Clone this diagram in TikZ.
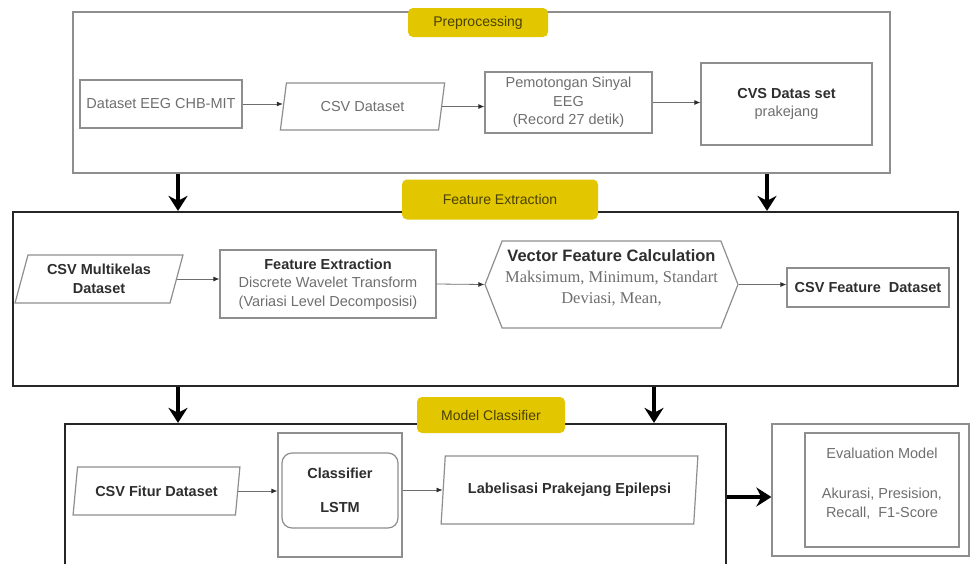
\documentclass[tikz,border=0pt]{standalone}
\usepackage{fontspec}
\setmainfont{Liberation Sans}
\newfontfamily\timesfont{Liberation Serif}
\usetikzlibrary{shapes.geometric,shapes.symbols,arrows.meta}
\definecolor{labelyellow}{HTML}{E2C600}
\definecolor{labeltext}{HTML}{4A4100}
\definecolor{boxgray}{HTML}{8E8E8E}
\definecolor{textgray}{HTML}{6E6E6E}
\definecolor{textdark}{HTML}{2E2E2E}
\newcommand\boxtitle[1]{\textcolor{textdark}{\bfseries #1}}
\begin{document}
\begin{tikzpicture}[x=1pt,y=-1pt,
		box/.style={draw=boxgray,line width=1.2pt,align=center,text=textgray,inner sep=0pt,font=\fontsize{14.5}{18.5}\selectfont},
		parbox/.style={box,trapezium,trapezium left angle=72,trapezium right angle=108,trapezium stretches=true},
		stagelabel/.style={fill=labelyellow,rounded corners=5pt,text=labeltext,inner sep=0pt,font=\fontsize{14}{16}\selectfont},
		frame/.style={draw=black!85,line width=2.2pt,inner sep=0pt},
		flow/.style={draw=textgray,line width=0.8pt,-{Latex[length=6pt,width=5pt,color=textdark]}},
		bigflow/.style={draw=black,line width=3.5pt,-{Stealth[length=15pt,width=19pt]}}]
				\useasboundingbox (0,0) rectangle (972,563);
				% stage frames
				\node[frame,draw=boxgray,line width=1.5pt,minimum width=817,minimum height=161] (prepframe) at (481.5,92.5) {};
				\node[frame,minimum width=945,minimum height=174] (featframe) at (485.5,299) {};
				\node[frame,minimum width=661,minimum height=176] (modelframe) at (395.5,512) {};
				\node[frame,draw=boxgray,line width=1.2pt,minimum width=197,minimum height=132] (evalframe) at (870.5,490) {};
				\node[stagelabel,minimum width=140,minimum height=29] (preplabel) at (478,22.5) {Preprocessing};
				\node[stagelabel,minimum width=196,minimum height=40] (featlabel) at (500,199.5) {Feature Extraction};
				\node[stagelabel,minimum width=148,minimum height=36] (modellabel) at (491,415) {Model Classifier};
				% preprocessing
				\node[box,minimum width=162,minimum height=48] (eegdata) at (161,104) {Dataset EEG CHB-MIT};
				\node[parbox,minimum width=165,minimum height=47] (csvdata) at (362.5,106.5) {CSV Dataset};
				\node[box,minimum width=167,minimum height=61] (potong) at (568.5,102.5) {Pemotongan Sinyal\\EEG\\(Record 27 detik)};
				\node[box,minimum width=171,minimum height=82] (prakejang) at (786.5,104) {\boxtitle{CVS Datas set}\\prakejang};
				\draw[flow] (eegdata.east) -- (eegdata.east -| csvdata.west);
				\draw[flow] (csvdata.east) -- (csvdata.east -| potong.west);
				\draw[flow] (potong.east) -- (potong.east -| prakejang.west);
				% feature extraction
				\node[parbox,minimum width=168,minimum height=48] (csvmulti) at (99,279) {\boxtitle{CSV Multikelas}\\\boxtitle{Dataset}};
				\node[box,minimum width=216,minimum height=68] (dwt) at (328,284) {\boxtitle{Feature Extraction}\\Discrete Wavelet Transform\\(Variasi Level Decomposisi)};
				\node[box,signal,signal to=west and east,signal pointer angle=137,minimum width=253,minimum height=87,font=\fontsize{16.5}{21}\selectfont] (vecfeat) at (611.5,284.5) {\boxtitle{Vector Feature Calculation}\\{\timesfont Maksimum, Minimum, Standart}\\{\timesfont Deviasi, Mean,}\\[-6pt]\mbox{}};
				\node[box,minimum width=162,minimum height=39] (csvfeat) at (868,287.5) {\boxtitle{CSV Feature\ \ Dataset}};
				\draw[flow] (csvmulti.east) -- (csvmulti.east -| dwt.west);
				\draw[flow] (dwt.east) -- (vecfeat.west);
				\draw[flow] (vecfeat.east) -- (vecfeat.east -| csvfeat.west);
				% model classifier
				\node[parbox,minimum width=167,minimum height=48] (csvfitur) at (156.5,491) {\boxtitle{CSV Fitur Dataset}};
				\node[box,minimum width=124,minimum height=124] (clfouter) at (340,495) {};
				\node[box,rounded corners=10pt,minimum width=116,minimum height=75] (clf) at (340,490.5) {\boxtitle{Classifier}\\[16pt]\boxtitle{LSTM}};
				\node[parbox,trapezium left angle=76,trapezium right angle=104,minimum width=257,minimum height=68] (labelisasi) at (569.5,490) {\boxtitle{Labelisasi Prakejang Epilepsi}};
				\draw[flow] (csvfitur.east) -- (csvfitur.east -| clfouter.west);
				\draw[flow] (clfouter.east |- labelisasi.west) -- (labelisasi.west);
				% evaluation
				\node[box,minimum width=154,minimum height=114] (evalbox) at (882,490) {Evaluation Model\\[22pt]Akurasi, Presision,\\Recall,\ \ F1-Score\\[-3pt]\mbox{}};
				% stage arrows
				\draw[bigflow] (178,0 |- prepframe.south) -- (178,0 |- featframe.north);
				\draw[bigflow] (767,0 |- prepframe.south) -- (767,0 |- featframe.north);
				\draw[bigflow] (178,0 |- featframe.south) -- (178,0 |- modelframe.north);
				\draw[bigflow] (654,0 |- featframe.south) -- (654,0 |- modelframe.north);
				\draw[bigflow] (modelframe.east |- 0,497) -- (evalframe.west |- 0,497);
			\end{tikzpicture}
\end{document}
